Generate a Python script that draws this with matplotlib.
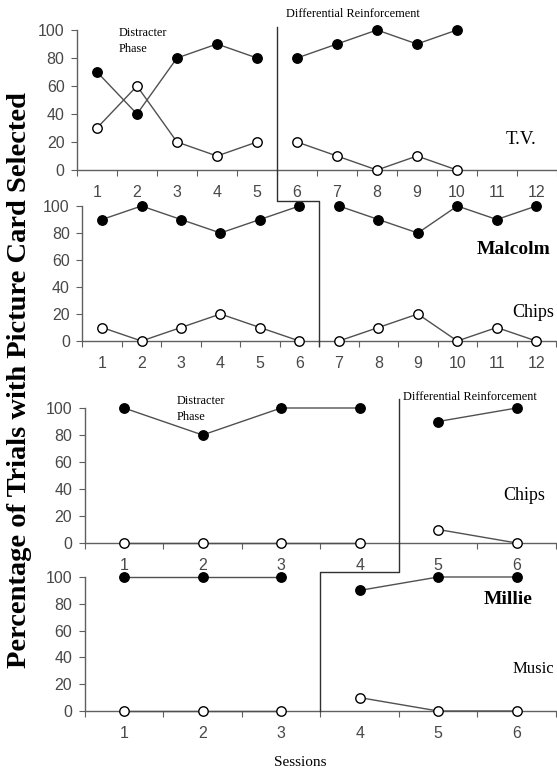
import matplotlib
matplotlib.use("Agg")
import matplotlib.pyplot as plt
from matplotlib.lines import Line2D

# Malcolm, T.V.
mal_tv_sess_a = [1, 2, 3, 4, 5]
mal_tv_filled_a = [70, 40, 80, 90, 80]
mal_tv_open_a = [30, 60, 20, 10, 20]
mal_tv_sess_b = [6, 7, 8, 9, 10]
mal_tv_filled_b = [80, 90, 100, 90, 100]
mal_tv_open_b = [20, 10, 0, 10, 0]

# Malcolm, Chips
mal_ch_sess_a = [1, 2, 3, 4, 5, 6]
mal_ch_filled_a = [90, 100, 90, 80, 90, 100]
mal_ch_open_a = [10, 0, 10, 20, 10, 0]
mal_ch_sess_b = [7, 8, 9, 10, 11, 12]
mal_ch_filled_b = [100, 90, 80, 100, 90, 100]
mal_ch_open_b = [0, 10, 20, 0, 10, 0]

# Millie, Chips
mil_ch_sess_a = [1, 2, 3, 4]
mil_ch_filled_a = [100, 80, 100, 100]
mil_ch_open_a = [0, 0, 0, 0]
mil_ch_sess_b = [5, 6]
mil_ch_filled_b = [90, 100]
mil_ch_open_b = [10, 0]

# Millie, Music
mil_mu_sess_a = [1, 2, 3]
mil_mu_filled_a = [100, 100, 100]
mil_mu_open_a = [0, 0, 0]
mil_mu_sess_b = [4, 5, 6]
mil_mu_filled_b = [90, 100, 100]
mil_mu_open_b = [10, 0, 0]

W, H = 557, 771
fig = plt.figure(figsize=(W / 100, H / 100), dpi=100)

SERIF = "Liberation Serif"
SANS = "Liberation Sans"
AXC = "#606060"
LINEC = "#505050"


def make_axes(left, right, top0, bot0, n):
    # pixel positions -> figure fraction
    ax = fig.add_axes([left / W, (H - bot0) / H, (right - left) / W, (bot0 - top0) / H])
    ax.set_xlim(0.5, n + 0.5)
    ax.set_ylim(0, 100)
    for s in ("top", "right"):
        ax.spines[s].set_visible(False)
    for s in ("left", "bottom"):
        ax.spines[s].set_color(AXC)
        ax.spines[s].set_linewidth(1.0)
    ax.set_yticks([0, 20, 40, 60, 80, 100])
    ax.set_xticks([i + 0.5 for i in range(n + 1)])
    ax.set_xticklabels([])
    ax.set_xticks(range(1, n + 1), minor=True)
    ax.set_xticklabels([str(i) for i in range(1, n + 1)], minor=True)
    ax.tick_params(axis="x", which="major", length=4, color=AXC, direction="out")
    ax.tick_params(axis="x", which="minor", length=0, pad=11, labelsize=11.5, labelcolor="#484848")
    ax.tick_params(axis="y", length=4, color=AXC, pad=5, labelsize=11.5, labelcolor="#484848")
    for lab in ax.get_xticklabels(minor=True) + ax.get_yticklabels():
        lab.set_fontfamily(SANS)
    ax.patch.set_visible(False)
    return ax


def series(ax, x, filled, opened):
    ax.plot(x, filled, color=LINEC, lw=1.0, marker="o", ms=6.8, mfc="black", mec="black",
            clip_on=False, zorder=3)
    ax.plot(x, opened, color=LINEC, lw=1.0, marker="o", ms=6.8, mfc="white", mec="black",
            mew=1.0, clip_on=False, zorder=3)


ax1 = make_axes(77, 557, 30, 170, 12)
ax2 = make_axes(82.3, 556, 206, 341, 12)
ax3 = make_axes(84.8, 556, 408, 543, 6)
ax4 = make_axes(84.8, 556, 577, 711, 6)

series(ax1, mal_tv_sess_a, mal_tv_filled_a, mal_tv_open_a)
series(ax1, mal_tv_sess_b, mal_tv_filled_b, mal_tv_open_b)
series(ax2, mal_ch_sess_a, mal_ch_filled_a, mal_ch_open_a)
series(ax2, mal_ch_sess_b, mal_ch_filled_b, mal_ch_open_b)
series(ax3, mil_ch_sess_a, mil_ch_filled_a, mil_ch_open_a)
series(ax3, mil_ch_sess_b, mil_ch_filled_b, mil_ch_open_b)
series(ax4, mil_mu_sess_a, mil_mu_filled_a, mil_mu_open_a)
series(ax4, mil_mu_sess_b, mil_mu_filled_b, mil_mu_open_b)


def fig_pt(ax, x, y):
    px = ax.transData.transform((x, y))
    return fig.transFigure.inverted().transform(px)


def phase_step(ax_top, x_top, y_top, ax_bot, x_bot, y_bot):
    fig.canvas.draw()
    p1 = fig_pt(ax_top, x_top, y_top)
    pj = fig_pt(ax_bot, x_bot, 103.5)
    p4 = fig_pt(ax_bot, x_bot, y_bot)
    xs = [p1[0], p1[0], p4[0], p4[0]]
    ys = [p1[1], pj[1], pj[1], p4[1]]
    fig.add_artist(Line2D(xs, ys, transform=fig.transFigure, color="#303030", lw=1.0))


phase_step(ax1, 5.5, 102, ax2, 6.5, -4)
phase_step(ax3, 4.5, 107, ax4, 3.5, 0)

# annotations
ax1.text(1.53, 102, "Distracter\nPhase", fontfamily=SERIF, fontsize=8.8, va="top", ha="left",
         linespacing=1.45)
ax1.text(5.73, 107, "Differential Reinforcement", fontfamily=SERIF, fontsize=8.8, va="bottom",
         ha="left")
ax1.text(11.6, 22, "T.V.", fontfamily=SERIF, fontsize=13.5, ha="center", va="center")
ax2.text(11.42, 68, "Malcolm", fontfamily=SERIF, fontsize=14, fontweight="bold",
         ha="center", va="center")
ax2.text(11.92, 21, "Chips", fontfamily=SERIF, fontsize=13, ha="center", va="center")

ax3.text(1.67, 110, "Distracter\nPhase", fontfamily=SERIF, fontsize=8.8, va="top", ha="left",
         linespacing=1.45)
ax3.text(4.55, 108, "Differential Reinforcement", fontfamily=SERIF, fontsize=8.8, va="center",
         ha="left")
ax3.text(6.1, 35, "Chips", fontfamily=SERIF, fontsize=13, ha="center", va="center")
ax4.text(5.89, 83.5, "Millie", fontfamily=SERIF, fontsize=14, fontweight="bold",
         ha="center", va="center")
ax4.text(6.21, 31, "Music", fontfamily=SERIF, fontsize=12, ha="center", va="center")

fig.text(300 / W, 1 - 762 / H, "Sessions", fontfamily=SERIF, fontsize=11, ha="center",
         va="center")
fig.text(20 / W, 1 - 380 / H, "Percentage of Trials with Picture Card Selected",
         fontfamily=SERIF, fontsize=20.5, fontweight="bold", rotation=90, ha="center",
         va="center")

fig.savefig("out.png", dpi=100)
